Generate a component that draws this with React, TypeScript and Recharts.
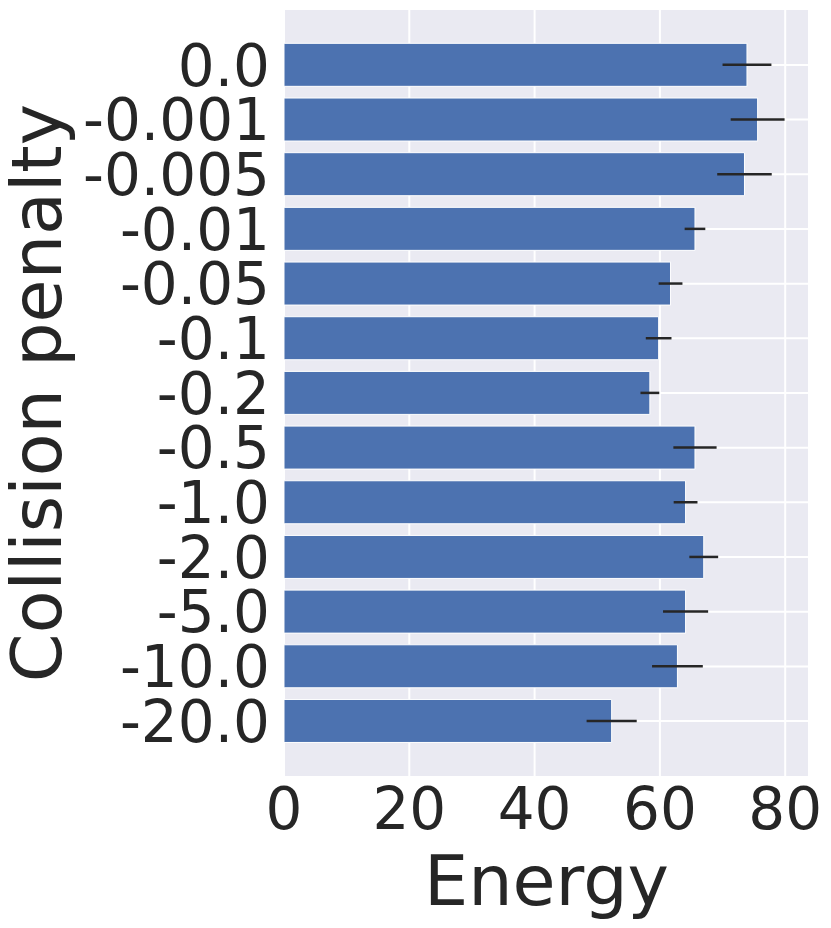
import React from "react"
import { Bar, BarChart, CartesianGrid, ErrorBar, Label, XAxis, YAxis } from "recharts"

const penalties = ["0.0", "-0.001", "-0.005", "-0.01", "-0.05", "-0.1", "-0.2", "-0.5", "-1.0", "-2.0", "-5.0", "-10.0", "-20.0"]
const energy = [73.9, 75.6, 73.5, 65.6, 61.7, 59.8, 58.4, 65.6, 64.1, 67.0, 64.1, 62.8, 52.3]
const energyErr = [3.9, 4.3, 4.35, 1.65, 1.9, 2.05, 1.5, 3.45, 1.9, 2.3, 3.6, 4.05, 4.0]
const xTicks = [0, 20, 40, 60, 80]

const data = penalties.map((name, i) => ({ name, energy: energy[i], err: energyErr[i] }))

const FONT = "'DejaVu Sans', sans-serif"
const INK = "#262626"

// rotated y title, centred on the plot area
const YTitle = () => {
  const cy = 9 + 768 / 2
  return (
    <text
      x={61}
      y={cy}
      transform={`rotate(-90, 61, ${cy})`}
      textAnchor="middle"
      fontFamily={FONT}
      fontSize={70}
      fill={INK}
    >
      Collision penalty
    </text>
  )
}

export default function App() {
  return (
    <div style={{ position: "absolute", left: 0, top: 0, width: 831, height: 928, background: "#fff" }}>
      <BarChart
        width={831}
        height={928}
        data={data}
        layout="vertical"
        barCategoryGap="10.5%"
        margin={{ top: 9, right: 22, left: 0, bottom: 0 }}
      >
        <CartesianGrid fill="#EAEAF2" stroke="#ffffff" strokeWidth={2} />
        <XAxis
          type="number"
          domain={[0, 83.8]}
          ticks={xTicks}
          allowDataOverflow
          height={151}
          axisLine={false}
          tickLine={false}
          tickSize={0}
          tickMargin={11}
          tick={{ fontSize: 58, fontFamily: FONT, fill: INK }}
        >
          <Label
            value="Energy"
            position="insideBottom"
            offset={23}
            style={{ fontSize: 70, fontFamily: FONT, fill: INK }}
          />
        </XAxis>
        <YAxis
          type="category"
          dataKey="name"
          width={284}
          padding={{ top: 28.6, bottom: 28.6 }}
          axisLine={false}
          tickLine={false}
          tickSize={0}
          tickMargin={14}
          interval={0}
          tick={{ fontSize: 58, fontFamily: FONT, fill: INK }}
        >
          <Label content={<YTitle />} />
        </YAxis>
        <Bar dataKey="energy" fill="#4C72B0" stroke="#ffffff" strokeWidth={1} isAnimationActive={false}>
          <ErrorBar dataKey="err" direction="x" width={0} stroke={INK} strokeWidth={2.5} isAnimationActive={false} />
        </Bar>
      </BarChart>
    </div>
  )
}
